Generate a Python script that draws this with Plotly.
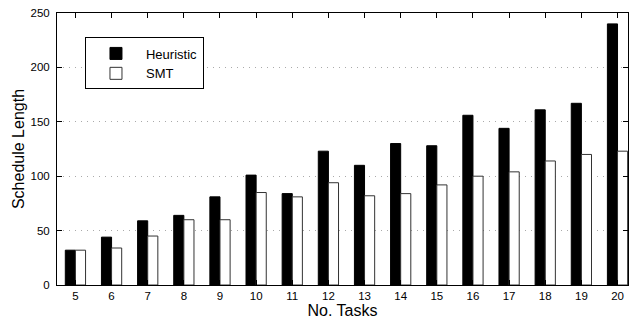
import plotly.graph_objects as go

tasks = [5, 6, 7, 8, 9, 10, 11, 12, 13, 14, 15, 16, 17, 18, 19, 20]
heuristic = [32, 44, 59, 64, 81, 101, 84, 123, 110, 130, 128, 156, 144, 161, 167, 240]
smt = [32, 34, 45, 60, 60, 85, 81, 94, 82, 84, 92, 100, 104, 114, 120, 123]
y_ticks = [0, 50, 100, 150, 200, 250]

fig = go.Figure()
fig.add_trace(go.Bar(x=tasks, y=heuristic, name="Heuristic",
                     marker=dict(color="black", line=dict(color="black", width=1))))
fig.add_trace(go.Bar(x=tasks, y=smt, name="SMT",
                     marker=dict(color="white", line=dict(color="#333333", width=1))))

font = "Liberation Sans, Arial, Helvetica, sans-serif"
fig.update_layout(
    width=629, height=326,
    margin=dict(l=57, r=1, t=13, b=41),
    barmode="group", bargap=0.44, bargroupgap=0,
    plot_bgcolor="white", paper_bgcolor="white",
    font=dict(family=font, color="black"),
    showlegend=True,
    legend=dict(x=0.049, y=0.91, xanchor="left", yanchor="top",
                bgcolor="white", bordercolor="black", borderwidth=1,
                font=dict(size=13, family=font), tracegroupgap=0,
                itemwidth=50),
)
fig.update_xaxes(
    range=[4.49, 20.29], tickmode="array", tickvals=tasks,
    ticktext=[str(t) for t in tasks],
    showline=True, linecolor="black", linewidth=1, mirror="ticks",
    ticks="inside", ticklen=5, tickcolor="black",
    tickfont=dict(size=11.5), showgrid=False, automargin=False,
    title=dict(text="No. Tasks", font=dict(size=16), standoff=4),
)
fig.update_yaxes(
    range=[0, 250], tickmode="array", tickvals=y_ticks,
    showline=True, linecolor="black", linewidth=1, mirror="ticks",
    ticks="inside", ticklen=5, tickcolor="black",
    tickfont=dict(size=11.5), ticklabelstandoff=4,
    showgrid=True, gridcolor="#aaaaaa", griddash="1px,5px", gridwidth=1,
    zeroline=False, automargin=False,
    title=dict(text="Schedule Length", font=dict(size=16), standoff=1),
)
fig.write_html("out.html", config={"displayModeBar": False},
               post_script="document.body.style.margin='0';document.body.style.overflow='hidden';")
